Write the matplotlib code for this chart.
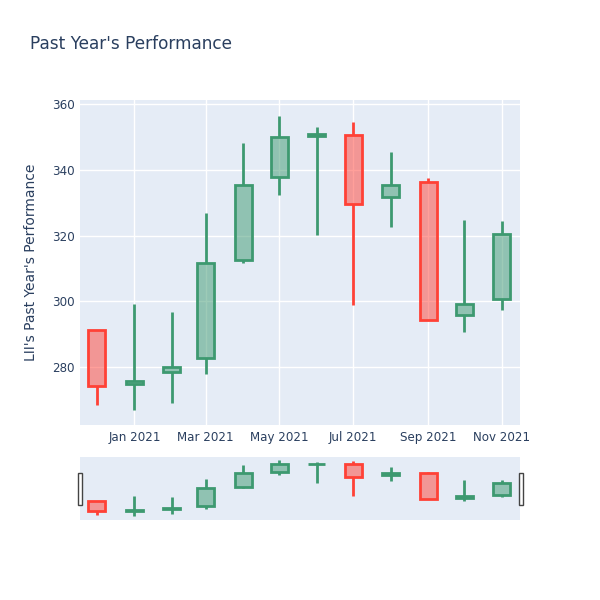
import matplotlib
matplotlib.use("Agg")
import matplotlib.pyplot as plt
import matplotlib.dates as mdates
from matplotlib.patches import Rectangle
import numpy as np
import datetime as dt

dates = ["2020-12-01", "2021-01-01", "2021-02-01", "2021-03-01", "2021-04-01", "2021-05-01",
         "2021-06-01", "2021-07-01", "2021-08-01", "2021-09-01", "2021-10-01", "2021-11-01"]
opens = [291.2, 274.9, 278.4, 282.7, 312.7, 337.8, 350.2, 350.5, 331.8, 336.4, 295.8, 300.6]
highs = [291.2, 299.1, 296.7, 326.9, 348.2, 356.3, 353.0, 354.5, 345.5, 337.4, 324.6, 324.4]
lows = [268.3, 267.0, 269.0, 277.7, 311.5, 332.3, 320.2, 298.8, 322.6, 294.4, 290.7, 297.3]
closes = [274.1, 275.6, 279.9, 311.7, 335.4, 349.9, 351.0, 329.6, 335.3, 294.4, 299.3, 320.5]
yticks = [280, 300, 320, 340, 360]

title = "Past Year's Performance"
ylabel = "LII's Past Year's Performance"

INC = "#3D9970"
DEC = "#FF4136"
TXT = "#2a3f5f"
BG = "#e5ecf6"

plt.rcParams['font.family'] = ['DejaVu Sans']

x = mdates.date2num([dt.datetime.strptime(d, "%Y-%m-%d") for d in dates])

fig = plt.figure(figsize=(6, 6), dpi=100)
ax = fig.add_axes([80/600, 1-425/600, 440/600, 325/600])
axs = fig.add_axes([80/600, 1-520/600, 440/600, 63/600])

xmin = mdates.date2num(dt.datetime(2020, 11, 17))
xmax = mdates.date2num(dt.datetime(2021, 11, 16))

def draw(a, lw):
    w = 14
    for xi, o, h, l, c in zip(x, opens, highs, lows, closes):
        col = INC if c >= o else DEC
        lo_b, hi_b = min(o, c), max(o, c)
        a.vlines(xi, l, lo_b, color=col, lw=lw, zorder=3)
        a.vlines(xi, hi_b, h, color=col, lw=lw, zorder=3)
        a.bar(xi, max(hi_b - lo_b, 0.05), bottom=lo_b, width=w,
              facecolor=matplotlib.colors.to_rgba(col, 0.5), edgecolor=col, lw=lw, zorder=4)

draw(ax, 2)
draw(axs, 2)

for a in (ax, axs):
    a.set_facecolor(BG)
    a.set_xlim(xmin, xmax)
    for s in a.spines.values():
        s.set_visible(False)

ax.set_ylim(262.3, 361.3)
ax.set_yticks(yticks)
ax.xaxis.set_major_locator(mdates.MonthLocator(bymonth=[1, 3, 5, 7, 9, 11]))
ax.xaxis.set_major_formatter(mdates.DateFormatter('%b %Y'))
ax.grid(True, color='white', lw=1)
ax.set_axisbelow(True)
ax.tick_params(length=0, colors=TXT, labelsize=8.6, pad=4)
ax.set_ylabel(ylabel, color=TXT, fontsize=10, labelpad=10)

axs.set_ylim(260.1, 361.6)
axs.set_xticks([])
axs.set_yticks([])

fig.text(30/600, 1-44/600, title, color=TXT, fontsize=12.2, va='center', ha='left')

for hx in (77.5, 518.5):
    fig.add_artist(Rectangle((hx/600, 1-505/600), 4/600, 32/600, transform=fig.transFigure,
                             facecolor='white', edgecolor='#444444', lw=1))

fig.savefig("out.png", dpi=100)
